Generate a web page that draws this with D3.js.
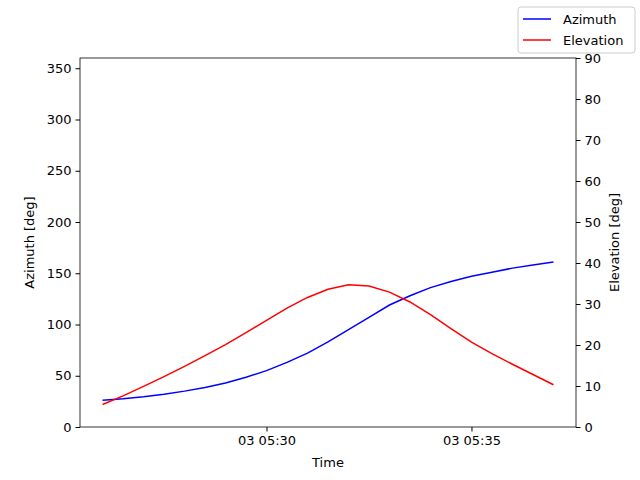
<!DOCTYPE html><html><head><meta charset="utf-8"><script src="https://d3js.org/d3.v7.min.js"></script>
<style>body{margin:0}text{font-family:"DejaVu Sans",sans-serif}</style></head><body><script>
const times=d3.range(23).map(i=>new Date(2024,0,3,5,26,i*30));
const azimuth=[26,27.5,29.5,32,35,38.5,43,48.5,55,63,72,83,95,107,119,128,136,142,147,151,155,158,161];
const elevation=[5.5,7.6,9.9,12.3,14.8,17.4,20.1,23,26,29,31.6,33.6,34.7,34.4,32.9,30.5,27.4,24,20.7,17.9,15.3,12.8,10.3];
const azTicks=[0,50,100,150,200,250,300,350], elTicks=d3.range(0,91,10);
const xTicks=[new Date(2024,0,3,5,30),new Date(2024,0,3,5,35)];
const W=640,H=480,L=80,R=576,T=58,B=427;
const svg=d3.select("body").append("svg").attr("width",W).attr("height",H);
svg.append("rect").attr("width",W).attr("height",H).attr("fill","#fff");
const ext=d3.extent(times),pad=(ext[1]-ext[0])*0.05;
const x=d3.scaleTime().domain([new Date(+ext[0]-pad),new Date(+ext[1]+pad)]).range([L,R]);
const yA=d3.scaleLinear().domain([0,360]).range([B,T]);
const yE=d3.scaleLinear().domain([0,90]).range([B,T]);
const fs="13px";
svg.append("g").attr("transform",`translate(0,${B})`).call(d3.axisBottom(x).tickValues(xTicks).tickFormat(d3.timeFormat("%d %H:%M")).tickSizeOuter(0).tickSize(4.5).tickPadding(4)).style("font-size",fs);
svg.append("g").attr("transform",`translate(${L},0)`).call(d3.axisLeft(yA).tickValues(azTicks).tickSizeOuter(0).tickSize(4.5).tickPadding(4)).style("font-size",fs);
svg.append("g").attr("transform",`translate(${R},0)`).call(d3.axisRight(yE).tickValues(elTicks).tickSizeOuter(0).tickSize(4.5).tickPadding(4)).style("font-size",fs);
svg.selectAll(".tick text").attr("fill","#000").style("font-family","DejaVu Sans");
svg.selectAll(".domain").remove();
svg.append("rect").attr("x",L).attr("y",T).attr("width",R-L).attr("height",B-T).attr("fill","none").attr("stroke","#000").attr("stroke-width",0.8);
const lineA=d3.line().x((d,i)=>x(times[i])).y(d=>yA(d));
const lineE=d3.line().x((d,i)=>x(times[i])).y(d=>yE(d));
svg.append("path").attr("d",lineA(azimuth)).attr("fill","none").attr("stroke","blue").attr("stroke-width",1.5);
svg.append("path").attr("d",lineE(elevation)).attr("fill","none").attr("stroke","red").attr("stroke-width",1.5);
svg.append("text").attr("x",(L+R)/2).attr("y",467).attr("text-anchor","middle").style("font-size",fs).text("Time");
svg.append("text").attr("transform",`translate(34,${(T+B)/2}) rotate(-90)`).attr("text-anchor","middle").style("font-size",fs).text("Azimuth [deg]");
svg.append("text").attr("transform",`translate(619,${(T+B)/2}) rotate(-90)`).attr("text-anchor","middle").style("font-size",fs).text("Elevation [deg]");
const lg=svg.append("g");
lg.append("rect").attr("x",518).attr("y",7).attr("width",117).attr("height",46).attr("rx",3).attr("fill","#fff").attr("stroke","#ccc");
[["Azimuth","blue",19],["Elevation","red",40]].forEach(([t,c,y])=>{
lg.append("line").attr("x1",523).attr("x2",551).attr("y1",y).attr("y2",y).attr("stroke",c).attr("stroke-width",1.5);
lg.append("text").attr("x",563).attr("y",y+4.5).style("font-size",fs).text(t);});
</script></body></html>
